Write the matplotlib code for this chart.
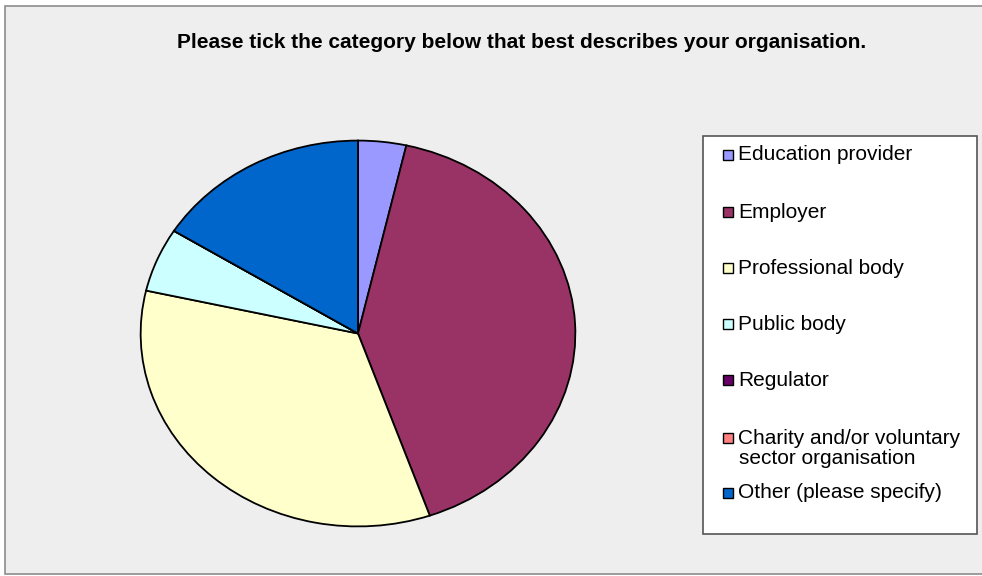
import matplotlib.pyplot as plt
from matplotlib.patches import Rectangle

# survey answers (counts)
categories = ['Education provider', 'Employer', 'Professional body', 'Public body',
              'Regulator', 'Charity and/or voluntary\nsector organisation', 'Other (please specify)']
counts = [2, 23, 19, 3, 0, 0, 9]
colors = ['#9999FF', '#993366', '#FFFFCC', '#CCFFFF', '#660066', '#FF8080', '#0066CC']

W, H = 982, 576
fig = plt.figure(figsize=(W / 100, H / 100), dpi=100)
fig.patch.set_facecolor('white')

# grey chart area with border (behind everything)
fig.patches.append(Rectangle((5 / W, 2 / H), 1.0, (574 - 6) / H, transform=fig.transFigure,
                             facecolor='#EEEEEE', edgecolor='#8C8C8C', lw=1.2, zorder=-5))

fig.text(522 / W, 1 - 42 / H, 'Please tick the category below that best describes your organisation.',
         ha='center', va='center', fontsize=15, fontweight='bold', family='Liberation Sans')

# elliptical pie
ax = fig.add_axes([140 / W, 1 - 527 / H, 436 / W, 387 / H])
ax.pie(counts, colors=colors, startangle=90, counterclock=False,
       wedgeprops=dict(edgecolor='black', linewidth=1.3))
ax.set_aspect('auto')
ax.set_xlim(-1.003, 1.003)
ax.set_ylim(-1.003, 1.003)
ax.axis('off')

# legend box
fig.patches.append(Rectangle((703 / W, 1 - 534 / H), 274 / W, 398 / H, transform=fig.transFigure,
                             facecolor='white', edgecolor='#555555', lw=1.2, zorder=-4))
ys = [155, 212, 268, 324, 380, 438, 493]
for lab, col, y in zip(categories, colors, ys):
    fig.patches.append(Rectangle((723 / W, 1 - (y + 5) / H), 10 / W, 10 / H, transform=fig.transFigure,
                                 facecolor=col, edgecolor='black', lw=1))
    parts = lab.split('\n')
    fig.text(738 / W, 1 - y / H, parts[0], ha='left', va='center',
             fontsize=15, family='Liberation Sans')
    if len(parts) > 1:
        fig.text(739 / W, 1 - (y + 21) / H, parts[1], ha='left', va='center',
                 fontsize=15, family='Liberation Sans')

fig.savefig('out.png', dpi=100)
